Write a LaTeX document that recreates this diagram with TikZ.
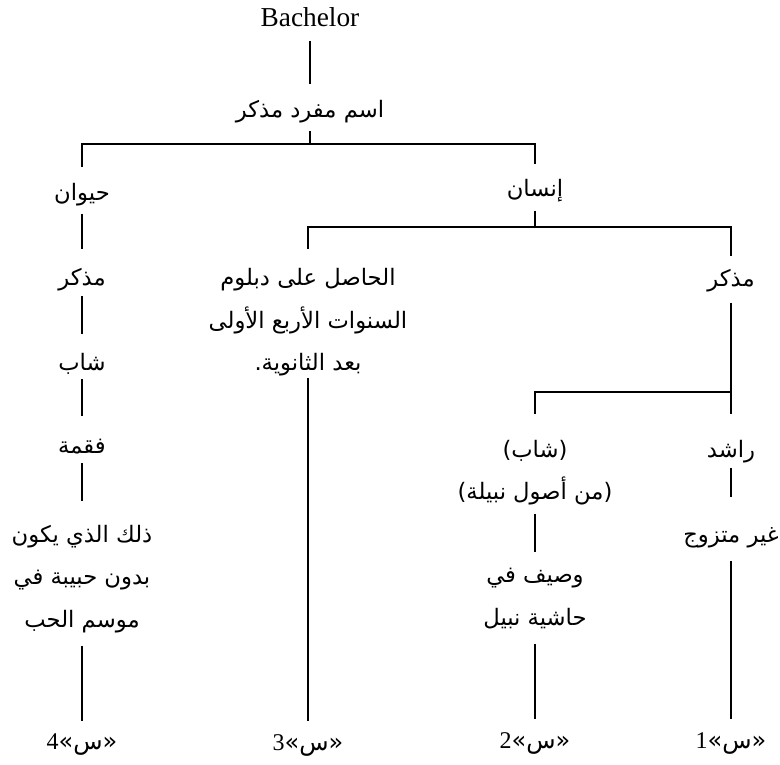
\documentclass[tikz,border=0pt]{standalone}
\usepackage{fontspec}
\setmainfont{Liberation Serif}
\newfontfamily\arabicfont[Script=Arabic]{DejaVu Sans}
\TeXXeTstate=1
\newcommand{\ar}[1]{\beginR #1\endR}
\newcommand{\tx}[2]{\raisebox{-#1pt}[\height][\depth]{\begin{tabular}{@{}c@{}}#2\end{tabular}}}
\begin{document}
\begin{tikzpicture}[x=0.75pt,y={(0,-0.75pt)},line width=1.4pt,
  lbl/.style={inner sep=0pt,minimum height=#1*0.75pt,
    font=\arabicfont\fontsize{17}{32}\selectfont},
  lat/.style={inner sep=0pt,minimum height=#1*0.75pt,
    font=\fontsize{20.5}{24}\selectfont},
  tag/.style={inner sep=0pt,minimum height=#1*0.75pt,
    font=\fontsize{18}{20}\selectfont}]
\useasboundingbox (0,0) rectangle (780,764);
% nodes
\node[lat=46] (root) at (310,17) {Bachelor};
\node[lbl=45] (mfrd) at (310,107.5) {\tx{1}{\ar{اسم مفرد مذكر}}};
\node[lbl=45] (haywan) at (82,190.5) {\tx{1}{\ar{حيوان}}};
\node[lbl=45] (insan) at (535,187.5) {\tx{0}{\ar{إنسان}}};
\node[lbl=45] (mudh1) at (82,272.5) {\tx{3}{\ar{مذكر}}};
\node[lbl=43] (shab1) at (82,356.5) {\tx{4}{\ar{شاب}}};
\node[lbl=45] (faqma) at (82,439.5) {\tx{4}{\ar{فقمة}}};
\node[lbl=143] (dhalik) at (82,573.5) {\tx{2}{\ar{ذلك الذي يكون}\\\ar{بدون حبيبة في}\\\ar{موسم الحب}}};
\node[lbl=127] (hasil) at (308,313.5) {\tx{4.5}{\ar{الحاصل على دبلوم}\\\ar{السنوات الأربع الأولى}\\\ar{بعد الثانوية.}}};
\node[lbl=45] (mudh2) at (731,279.5) {\tx{-1}{\ar{مذكر}}};
\node[lbl=98] (shab2) at (535,464) {\tx{4.5}{\ar{(شاب)}\\\ar{(من أصول نبيلة)}}};
\node[lbl=52] (rashid) at (731,441) {\tx{6}{\ar{راشد}}};
\node[lbl=62] (ghayr) at (731,529) {\tx{4}{\ar{غير متزوج}}};
\node[lbl=90] (wasif) at (535,598) {\tx{-2}{\ar{وصيف في}\\\ar{حاشية نبيل}}};
\node[tag=46] (s4) at (82,745) {4{\arabicfont «س»}};
\node[tag=46] (s3) at (308,745) {3{\arabicfont «س»}};
\node[tag=46] (s2) at (535,743) {2{\arabicfont «س»}};
\node[tag=46] (s1) at (731,743) {1{\arabicfont «س»}};
% junctions
\coordinate (j1) at (310,144);
\coordinate (j2) at (535,227);
\coordinate (j3) at (731,392);
% connectors
\draw (root) -- (mfrd);
\draw (mfrd) -- (j1);
\draw (haywan) |- (j1) -| (insan);
\draw (haywan) -- (mudh1);
\draw (mudh1) -- (shab1);
\draw (shab1) -- (faqma);
\draw (faqma) -- (dhalik);
\draw (dhalik) -- (s4);
\draw (insan) -- (j2);
\draw (hasil) |- (j2) -| (mudh2);
\draw (hasil) -- (s3);
\draw (mudh2) -- (j3);
\draw (shab2) |- (j3) -- (rashid);
\draw (shab2) -- (wasif);
\draw (wasif) -- (s2);
\draw (rashid) -- (ghayr);
\draw (ghayr) -- (s1);
\end{tikzpicture}
\end{document}
